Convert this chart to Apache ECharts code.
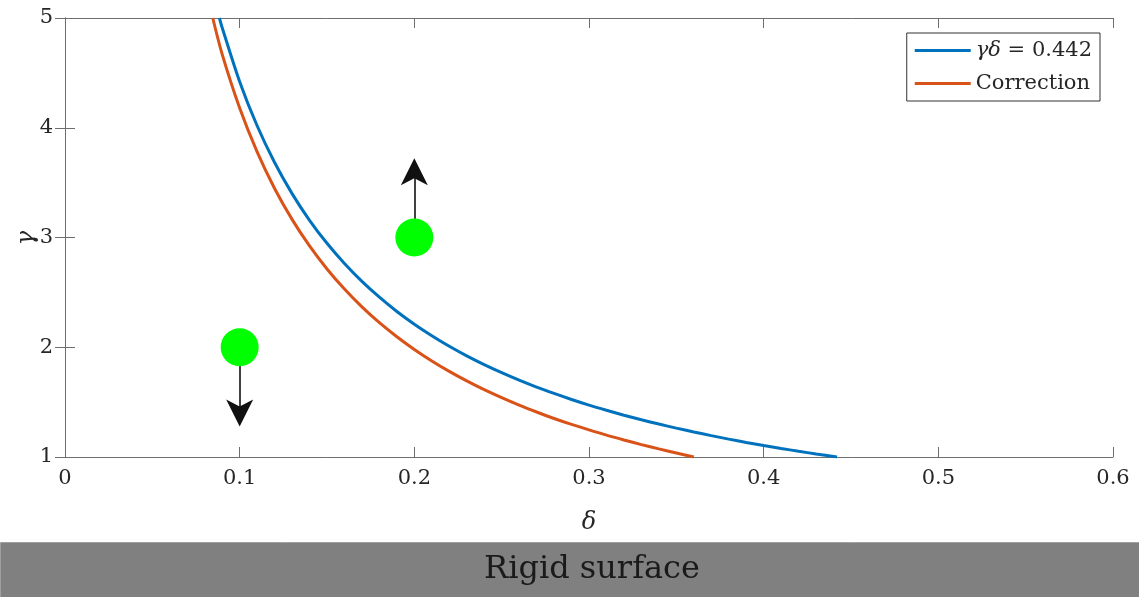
<!DOCTYPE html>
<html>
<head>
<meta charset="utf-8">
<script src="https://cdn.jsdelivr.net/npm/echarts@6/dist/echarts.min.js"></script>
<style>html,body{margin:0;padding:0;background:#fff;}#c{width:1139px;height:597px;}</style>
</head>
<body>
<div id="c"></div>
<script>
// Blue curve: gamma*delta = 0.442 (delta, gamma)
const blueDelta = [0.0884, 0.09, 0.10, 0.11, 0.12, 0.13, 0.14, 0.15, 0.16, 0.17, 0.18, 0.19, 0.20, 0.21, 0.22, 0.23, 0.24, 0.25, 0.26, 0.27, 0.28, 0.29, 0.30, 0.31, 0.32, 0.33, 0.34, 0.35, 0.36, 0.37, 0.38, 0.39, 0.40, 0.41, 0.42, 0.43, 0.442];
const blueGamma = [5.00, 4.911, 4.42, 4.018, 3.683, 3.40, 3.157, 2.947, 2.763, 2.60, 2.456, 2.326, 2.21, 2.105, 2.009, 1.922, 1.842, 1.768, 1.70, 1.637, 1.579, 1.524, 1.473, 1.426, 1.381, 1.339, 1.30, 1.263, 1.228, 1.195, 1.163, 1.133, 1.105, 1.078, 1.052, 1.028, 1.00];
// Orange "Correction" curve
const corrDelta = [0.0846, 0.09, 0.10, 0.11, 0.12, 0.13, 0.14, 0.15, 0.16, 0.17, 0.18, 0.19, 0.20, 0.21, 0.22, 0.23, 0.24, 0.25, 0.26, 0.27, 0.28, 0.29, 0.30, 0.31, 0.32, 0.33, 0.34, 0.35, 0.36];
const corrGamma = [5.00, 4.669, 4.18, 3.78, 3.447, 3.165, 2.923, 2.713, 2.53, 2.368, 2.224, 2.096, 1.98, 1.875, 1.78, 1.693, 1.613, 1.54, 1.472, 1.41, 1.351, 1.297, 1.247, 1.199, 1.155, 1.113, 1.074, 1.037, 1.00];
// Green points
const pointDelta = [0.1, 0.2];
const pointGamma = [2, 3];
// Arrow head centres (gamma) from each point
const arrowEndGamma = [1.40, 3.60];
const xTicks = [0, 0.1, 0.2, 0.3, 0.4, 0.5, 0.6];
const yTicks = [1, 2, 3, 4, 5];
const blueName = 'γδ = 0.442';
const corrName = 'Correction';
const xName = 'δ';
const yName = 'γ';
const bandText = 'Rigid surface';

const FONT = 'DejaVu Serif';
const zip = (a, b) => a.map((v, i) => [v, b[i]]);
const chart = echarts.init(document.getElementById('c'));

const axisCommon = {
  type: 'value',
  axisLine: { show: true, lineStyle: { color: '#6e6e6e', width: 1 } },
  axisTick: { show: true, inside: true, length: 10, lineStyle: { color: '#6e6e6e', width: 1 } },
  splitLine: { show: false }
};

chart.setOption({
  animation: false,
  backgroundColor: '#fff',
  grid: { left: 65, right: 26, top: 18, bottom: 140, containLabel: false, outerBoundsMode: 'none' },
  xAxis: [
    Object.assign({}, axisCommon, {
      min: xTicks[0], max: xTicks[xTicks.length - 1], interval: 0.1, position: 'bottom',
      name: xName, nameLocation: 'middle', nameGap: 54,
      nameTextStyle: { fontFamily: FONT, fontStyle: 'italic', fontSize: 24, color: '#262626' },
      axisLabel: { fontFamily: FONT, fontSize: 21, color: '#262626', margin: 11 }
    }),
    Object.assign({}, axisCommon, {
      min: xTicks[0], max: xTicks[xTicks.length - 1], interval: 0.1, position: 'top',
      axisLabel: { show: false }
    })
  ],
  yAxis: [
    Object.assign({}, axisCommon, {
      min: yTicks[0], max: yTicks[yTicks.length - 1], interval: 1, position: 'left',
      axisLabel: { fontFamily: FONT, fontSize: 21, color: '#262626', margin: 12 }
    }),
    Object.assign({}, axisCommon, {
      min: yTicks[0], max: yTicks[yTicks.length - 1], interval: 1, position: 'right',
      axisLabel: { show: false }
    })
  ],
  legend: {
    orient: 'vertical', right: 39, top: 33,
    data: [blueName, corrName],
    icon: 'rect', itemWidth: 56, itemHeight: 3, itemGap: 12,
    padding: [7, 8, 7, 8],
    backgroundColor: '#fff', borderColor: '#333', borderWidth: 1, borderRadius: 0,
    formatter: function (name) {
      return name === blueName ? '{i|γδ} = 0.442' : name;
    },
    textStyle: {
      fontFamily: FONT, fontSize: 21, color: '#262626',
      rich: { i: { fontFamily: FONT, fontStyle: 'italic', fontSize: 21, color: '#262626' } }
    }
  },
  series: [
    {
      type: 'lines', coordinateSystem: 'cartesian2d', z: 3,
      symbol: ['none', 'path://M0,0 L8,27 L0,20 L-8,27 Z'], symbolSize: 27, symbolKeepAspect: true,
      lineStyle: { color: '#111', width: 1.6, opacity: 1 },
      data: pointDelta.map((d, i) => ({ coords: [[d, pointGamma[i]], [d, arrowEndGamma[i]]] }))
    },
    {
      name: blueName, type: 'line', showSymbol: false, smooth: 0.3, z: 4,
      lineStyle: { color: '#0072BD', width: 3 }, itemStyle: { color: '#0072BD' },
      data: zip(blueDelta, blueGamma)
    },
    {
      name: corrName, type: 'line', showSymbol: false, smooth: 0.3, z: 4,
      lineStyle: { color: '#D95319', width: 3 }, itemStyle: { color: '#D95319' },
      data: zip(corrDelta, corrGamma)
    },
    {
      type: 'scatter', symbol: 'circle', symbolSize: 38, z: 6,
      itemStyle: { color: '#00FF00', opacity: 1 },
      data: zip(pointDelta, pointGamma)
    }
  ],
  graphic: [
    {
      type: 'text', x: 27, y: 238, rotation: Math.PI / 2, z: 1,
      style: { text: yName, fontFamily: FONT, fontStyle: 'italic', fontSize: 24, fill: '#262626', align: 'center', verticalAlign: 'middle' }
    },
    {
      type: 'rect', left: 0, top: 542, z: 0,
      shape: { width: 1139, height: 55 },
      style: { fill: '#808080', stroke: '#a0a0a0', lineWidth: 1 }
    },
    {
      type: 'text', x: 592, y: 570, z: 1,
      style: { text: bandText, fontFamily: FONT, fontSize: 32, fill: '#1a1a1a', align: 'center', verticalAlign: 'middle' }
    }
  ]
});
</script>
</body>
</html>
